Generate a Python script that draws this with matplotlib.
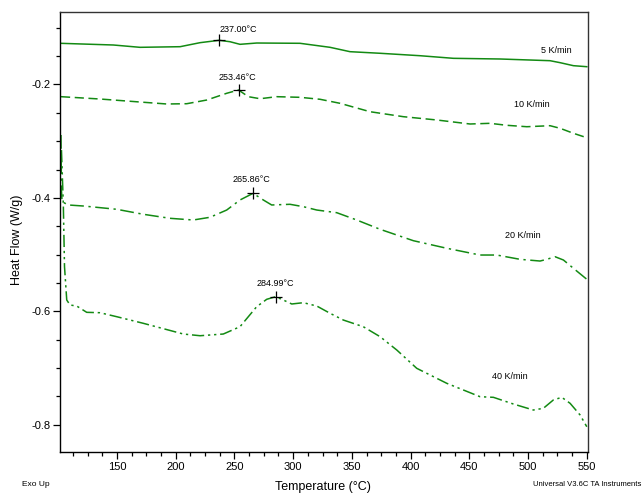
import matplotlib
matplotlib.use('Agg')
import matplotlib.pyplot as plt
from matplotlib.ticker import MultipleLocator

# DSC traces: temperature (C) and heat flow (W/g)
t_5 = [101.5, 146.9, 169.6, 203.7, 220.7, 237.0, 246.2, 254.7, 269.0, 305.8, 331.4,
       348.4, 373.9, 408.0, 436.4, 476.2, 518.7, 527.3, 538.6, 550.0]
hf_5 = [-0.1273, -0.1303, -0.1344, -0.1333, -0.1262, -0.1220, -0.1245, -0.1291, -0.1268,
        -0.1273, -0.1344, -0.1421, -0.1449, -0.1492, -0.1538, -0.1550, -0.1580, -0.1615,
        -0.1668, -0.1686]

t_10 = [102.3, 135.5, 169.6, 192.3, 209.4, 226.4, 243.4, 253.46, 261.8, 271.8, 286.0,
        305.8, 322.9, 339.9, 365.4, 393.8, 422.2, 450.6, 467.6, 481.9, 498.9, 518.7,
        527.3, 538.6, 550.0]
hf_10 = [-0.2215, -0.2256, -0.2309, -0.2344, -0.2339, -0.2274, -0.2155, -0.2097, -0.2215,
         -0.2251, -0.2215, -0.2226, -0.2261, -0.2332, -0.2480, -0.2568, -0.2626, -0.2697,
         -0.2685, -0.2720, -0.2745, -0.2727, -0.2773, -0.2861, -0.2939]

t_20 = [102.3, 102.7, 103.2, 108.5, 121.3, 149.7, 172.4, 195.1, 214.9, 229.2, 243.4,
        254.7, 265.86, 274.6, 281.7, 297.3, 308.7, 320.1, 337.1, 354.1, 374.0, 402.3,
        430.8, 459.1, 473.3, 493.2, 510.2, 515.9, 523.0, 530.1, 538.6, 550.0]
hf_20 = [-0.2891, -0.3862, -0.4068, -0.4126, -0.4144, -0.4202, -0.4290, -0.4361, -0.4391,
         -0.4343, -0.4215, -0.4038, -0.3920, -0.4038, -0.4126, -0.4114, -0.4156, -0.4215,
         -0.4262, -0.4391, -0.4555, -0.4756, -0.4890, -0.5009, -0.5009, -0.5085, -0.5115,
         -0.5085, -0.5039, -0.5097, -0.5243, -0.5437]

t_40 = [102.7, 104.3, 105.3, 107.2, 110.0, 115.7, 124.2, 135.5, 149.7, 172.4, 206.5,
        220.7, 240.5, 254.7, 268.9, 277.5, 284.99, 291.6, 298.8, 308.7, 320.1, 331.4,
        342.7, 359.7, 374.0, 388.2, 405.2, 430.8, 459.1, 470.5, 487.5, 504.5, 513.0,
        521.5, 528.7, 535.8, 544.3, 550.0]
hf_40 = [-0.3157, -0.4126, -0.5215, -0.5803, -0.5891, -0.5909, -0.6020, -0.6027, -0.6097,
         -0.6214, -0.6403, -0.6433, -0.6403, -0.6274, -0.5921, -0.5790, -0.5745, -0.5803,
         -0.5873, -0.5850, -0.5909, -0.6037, -0.6156, -0.6274, -0.6450, -0.6685, -0.7008,
         -0.7273, -0.7509, -0.7520, -0.7638, -0.7744, -0.7714, -0.7567, -0.7520, -0.7626,
         -0.7832, -0.8039]

rates = ['5 K/min', '10 K/min', '20 K/min', '40 K/min']
peak_t = [237.00, 253.46, 265.86, 284.99]
peak_hf = [-0.1220, -0.2097, -0.3920, -0.5745]
# where the rate / peak captions sit (data coords)
rate_lbl_t = [523.9, 503.4, 495.7, 484.2]
rate_lbl_hf = [-0.1404, -0.2349, -0.4656, -0.7153]
peak_lbl_t = [253.0, 252.6, 264.1, 284.6]
peak_lbl_hf = [-0.1038, -0.1868, -0.3685, -0.5512]

plt.rcParams['font.family'] = ['Liberation Sans', 'DejaVu Sans']
green = '#138a13'

fig = plt.figure(figsize=(6.43, 4.95), dpi=100)
ax = fig.add_axes([60/643, 1-452.3/495, 527.5/643, 440/495])

styles = ['-', (0, (6, 3)), (0, (9, 3, 1.5, 3)), (0, (8, 2.5, 1.5, 2.5, 1.5, 2.5))]
curves = [(t_5, hf_5), (t_10, hf_10), (t_20, hf_20), (t_40, hf_40)]
for i, (tt, hh) in enumerate(curves):
    ax.plot(tt, hh, color=green, lw=1.1, linestyle=styles[i])
    ax.text(rate_lbl_t[i], rate_lbl_hf[i], rates[i], fontsize=6.5, ha='center', va='center')
    ax.plot(peak_t[i], peak_hf[i], marker='+', color='black', ms=9, mew=0.9)
    ax.text(peak_lbl_t[i], peak_lbl_hf[i], '%.2f°C' % peak_t[i], fontsize=6.5,
            ha='center', va='center')

ax.set_xlim(101.46, 550.6)
ax.set_ylim(-0.849, -0.0726)
ax.xaxis.set_major_locator(MultipleLocator(50))
ax.xaxis.set_minor_locator(MultipleLocator(12.5))
ax.yaxis.set_major_locator(MultipleLocator(0.2))
ax.yaxis.set_minor_locator(MultipleLocator(0.05))
ax.set_yticks([-0.8, -0.6, -0.4, -0.2])
ax.set_yticklabels(['-0.8', '-0.6', '-0.4', '-0.2'])
ax.set_xticks([150, 200, 250, 300, 350, 400, 450, 500, 550])
ax.tick_params(which='major', length=5, width=0.9, labelsize=8, pad=2)
ax.tick_params(which='minor', length=3, width=0.9)
for s in ax.spines.values():
    s.set_linewidth(1.0)
    s.set_color('#333333')
ax.spines['left'].set_color('black')
ax.spines['bottom'].set_color('black')

fig.text(17/643, 1-240/495, 'Heat Flow (W/g)', rotation=90, ha='center', va='center', fontsize=9)
fig.text(323/643, 1-487/495, 'Temperature (°C)', ha='center', va='center', fontsize=9)
fig.text(22/643, 1-484/495, 'Exo Up', ha='left', va='center', fontsize=6)
fig.text(641/643, 1-484/495, 'Universal V3.6C TA Instruments', ha='right', va='center',
         fontsize=5.5)

fig.savefig('out.png', dpi=100)
